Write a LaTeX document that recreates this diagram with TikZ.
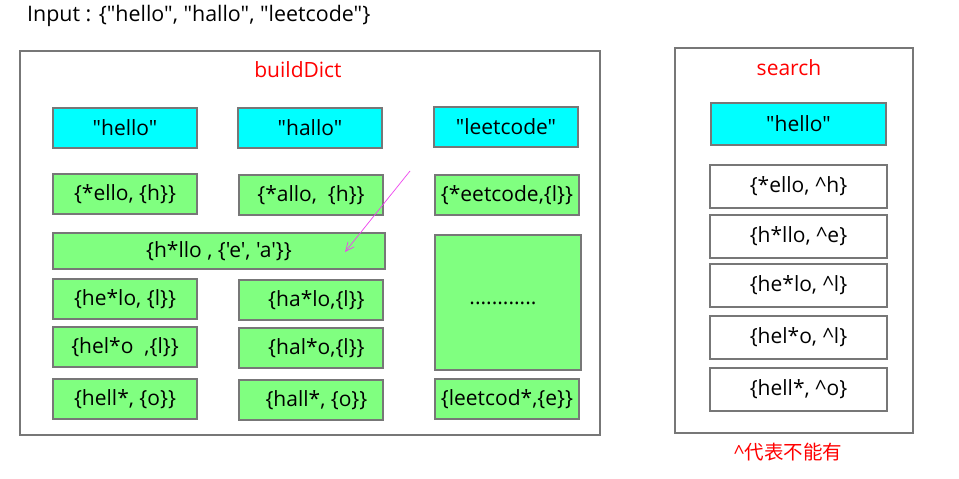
\documentclass[tikz,border=0pt]{standalone}
\usepackage{fontspec}
\setmainfont{Open Sans}[Ligatures=TeXOff]
\newfontfamily\cjk{Noto Sans CJK SC}
\usetikzlibrary{arrows.meta}
\definecolor{bgreen}{HTML}{80FF80}
\definecolor{bcyan}{HTML}{00FFFF}
\definecolor{bgray}{HTML}{777777}
\definecolor{bmag}{HTML}{EE44EE}
\tikzset{
  frame/.style={draw=bgray, line width=1.3pt, fill=white, inner sep=0pt},
  cell/.style={draw=bgray, line width=1.3pt, inner sep=0pt, font=\fontsize{21}{24}\selectfont, text=black},
  word/.style={cell, fill=bcyan},
  grn/.style={cell, fill=bgreen},
  wht/.style={cell, fill=white},
  title/.style={text=red, font=\fontsize{21}{24}\selectfont, inner sep=0pt},
}
\newcommand{\bx}[7]{\node[#1, minimum width={#4-#2}, minimum height={#5-#3}] (#6) at ({(#2+#4)/2},{(#3+#5)/2}) {#7};}
\begin{document}
\begin{tikzpicture}[x=1pt,y=-1pt]
\useasboundingbox (0,0) rectangle (959,479);
\node[inner sep=0pt, anchor=west, font=\fontsize{21.4}{24}\selectfont] (input) at (27,16) {Input : \{"hello", "hallo", "leetcode"\}};
% buildDict frame
\bx{frame}{20}{51}{600}{435}{bd}{}
\node[title] (bdt) at (298,70) {buildDict};
\bx{word}{53}{108}{197}{148}{w1}{"hello"}
\bx{word}{238}{108}{382}{148}{w2}{"hallo"}
\bx{word}{434}{107}{578}{147}{w3}{"leetcode"}
\bx{grn}{53}{174}{197}{214}{g11}{\{*ello, \{h\}\}}
\bx{grn}{239}{175}{383}{215}{g21}{\{*allo,\ \ \{h\}\}}
\bx{grn}{435}{175}{579}{215}{g31}{\{*eetcode,\{l\}\}}
\bx{grn}{53}{233}{385}{269}{g12}{\{h*llo , \{'e', 'a'\}\}}
\bx{grn}{53}{279}{197}{319}{g13}{\{he*lo, \{l\}\}}
\bx{grn}{239}{280}{383}{320}{g23}{\ \ \{ha*lo,\{l\}\}}
\bx{grn}{53}{327}{197}{367}{g14}{\{hel*o\ \ ,\{l\}\}}
\bx{grn}{239}{328}{383}{368}{g24}{\ \ \{hal*o,\{l\}\}}
\bx{grn}{53}{379}{197}{419}{g15}{\{hell*, \{o\}\}}
\bx{grn}{239}{380}{383}{420}{g25}{\ \ \{hall*, \{o\}\}}
\bx{grn}{435}{235}{581}{370}{g32}{}
\node[inner sep=0pt, font=\fontsize{21}{24}\selectfont] (dots) at (503,303) {............};
\bx{grn}{435}{379}{579}{419}{g35}{\{leetcod*,\{e\}\}}
\coordinate (as) at (410,171);
\coordinate (ae) at (345,252);
\draw[bmag, line width=0.7pt, -{Straight Barb[length=9pt, width=8pt]}] (as) -- (ae);
% search frame
\bx{frame}{675}{48}{913}{433}{sf}{}
\node[title] (st) at (789,68) {search};
\bx{word}{711}{103}{886}{145}{sw}{"hello"}
\bx{wht}{710}{165}{887}{208}{s1}{\{*ello, \^{}h\}}
\bx{wht}{710}{215}{887}{258}{s2}{\{h*llo, \^{}e\}}
\bx{wht}{710}{264}{887}{307}{s3}{\{he*lo, \^{}l\}}
\bx{wht}{710}{316}{887}{359}{s4}{\{hel*o, \^{}l\}}
\bx{wht}{710}{368}{887}{411}{s5}{\{hell*, \^{}o\}}
\node[title, font=\fontsize{19.5}{22}\selectfont] (note) at (788,452) {\^{}{\cjk 代表不能有}};
\end{tikzpicture}
\end{document}
